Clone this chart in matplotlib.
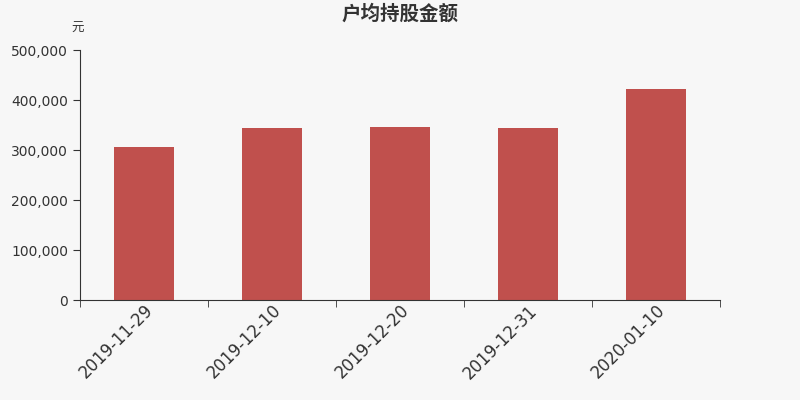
import matplotlib
matplotlib.use("Agg")
import matplotlib.pyplot as plt
from matplotlib.ticker import FuncFormatter, FixedLocator
import numpy as np

plt.rcParams['font.family'] = ['Noto Sans CJK SC', 'DejaVu Sans']

categories = ["2019-11-29", "2019-12-10", "2019-12-20", "2019-12-31", "2020-01-10"]
values = [305400, 344000, 345300, 344000, 421300]
yticks = [0, 100000, 200000, 300000, 400000, 500000]

bg = "#f7f7f7"
fig = plt.figure(figsize=(8, 4), dpi=100, facecolor=bg)
ax = fig.add_axes([0.1, 0.25, 0.8, 0.625], facecolor=bg)

x = np.arange(len(categories))
ax.bar(x, values, width=0.47, color="#c0504d", zorder=2)

ax.set_xlim(-0.5, len(categories) - 0.5)
ax.set_ylim(0, 500000)
ax.set_yticks(yticks)
ax.yaxis.set_major_formatter(FuncFormatter(lambda v, p: f"{int(v):,}"))
ax.set_xticks(x)
ax.set_xticklabels(categories, rotation=45, ha="right", rotation_mode="anchor",
                   fontsize=12, color="#333333", family="DejaVu Sans")
ax.tick_params(axis="x", which="major", length=0, pad=1)
ax.xaxis.set_minor_locator(FixedLocator(np.arange(-0.5, len(categories), 1.0)))
ax.tick_params(axis="x", which="minor", length=5, color="#333333")
ax.tick_params(axis="y", length=5, color="#333333", labelsize=10, labelcolor="#333333")
for lab in ax.get_yticklabels():
    lab.set_family("DejaVu Sans")

for s in ["top", "right"]:
    ax.spines[s].set_visible(False)
for s in ["left", "bottom"]:
    ax.spines[s].set_color("#333333")

fig.text(0.5, 0.965, "户均持股金额", ha="center", va="center", fontsize=14,
         fontweight="bold", color="#333333")
fig.text(0.097, 0.928, "元", ha="center", va="center", fontsize=9, color="#333333")

fig.savefig("out.png", dpi=100, facecolor=bg)
